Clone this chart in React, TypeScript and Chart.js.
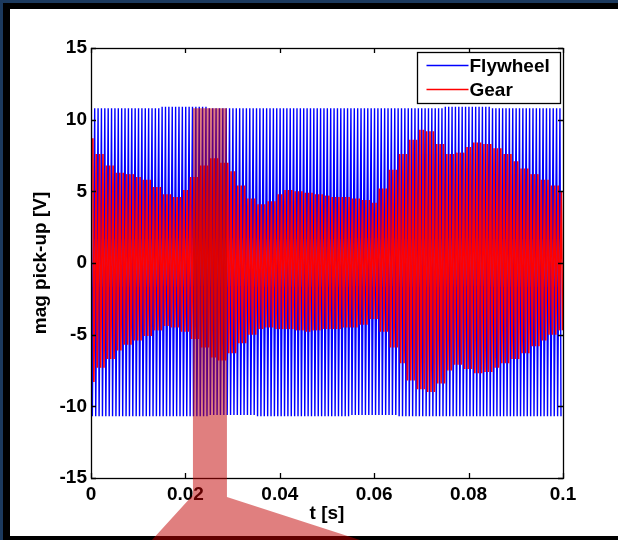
import React, { useEffect, useRef } from 'react';
import { Chart, registerables } from 'chart.js';

Chart.register(...registerables);

// ---- axis / ticks ----
const T_MIN = 0;
const T_MAX = 0.1;
const V_MIN = -15;
const V_MAX = 15;
const xTickValues = [0, 0.02, 0.04, 0.06, 0.08, 0.1];
const xTickLabels = ['0', '0.02', '0.04', '0.06', '0.08', '0.1'];
const yTickValues = [-15, -10, -5, 0, 5, 10, 15];
const yTickLabels = ['-15', '-10', '-5', '0', '5', '10', '15'];
const xTitle = 't [s]';
const yTitle = 'mag pick-up [V]';

// ---- series ----
const seriesNames = ['Flywheel', 'Gear'];
const seriesColors = ['#0000ff', '#ff0000'];

// Flywheel: number of oscillation cycles in the window, peak envelope read every 0.01 s
const flywheelCycles = 140;
const flywheelEnvStep = 0.01;
const flywheelUpper = [10.8, 10.8, 10.9, 10.8, 10.8, 10.8, 10.8, 10.8, 10.9, 10.8, 10.8];
const flywheelLower = [-10.7, -10.7, -10.7, -10.6, -10.7, -10.7, -10.6, -10.7, -10.7, -10.7, -10.7];

// Gear: number of oscillation cycles, peak envelope read every 0.002 s
const gearCycles = 140;
const gearEnvStep = 0.002;
const gearUpper = [
  8.7, 7.6, 6.8, 6.3, 6.2, 6.0, 5.8, 5.3, 4.8, 4.6,
  5.1, 6.0, 6.8, 7.3, 7.0, 6.4, 5.4, 4.5, 4.1, 4.3,
  4.8, 5.1, 5.0, 4.9, 4.8, 4.7, 4.6, 4.6, 4.5, 4.4,
  4.2, 5.2, 6.5, 7.6, 8.6, 9.3, 9.2, 8.3, 7.6, 7.7,
  8.1, 8.4, 8.3, 8.0, 7.6, 7.1, 6.6, 6.2, 5.8, 5.4, 5.0,
];
const gearLower = [
  -8.3, -7.3, -6.7, -6.1, -5.7, -5.4, -5.1, -4.7, -4.4, -4.5,
  -4.8, -5.3, -5.9, -6.6, -6.8, -6.3, -5.6, -5.0, -4.6, -4.5,
  -4.6, -4.6, -4.7, -4.8, -4.7, -4.6, -4.6, -4.5, -4.5, -4.3,
  -3.9, -4.8, -5.9, -7.0, -8.2, -8.8, -9.0, -8.4, -7.5, -7.1,
  -7.4, -7.7, -7.6, -7.3, -7.0, -6.7, -6.3, -5.8, -5.4, -5.0, -4.7,
];

// zoom-window highlight (time range and top value)
const zoomWindow = [0.0216, 0.0288];
const zoomTopValue = 10.8;

const FONT = 'Liberation Sans, Arial, Helvetica, sans-serif';

function buildWave(cycles: number, step: number, upper: number[], lower: number[], phase: number, split: number) {
  const pts: { x: number; y: number }[] = [];
  const period = (T_MAX - T_MIN) / cycles;
  for (let k = 0; k < cycles; k++) {
    const tp = T_MIN + (k + phase) * period;
    const tt = tp + split * period;
    const iu = Math.min(upper.length - 1, Math.round((tp - T_MIN) / step));
    const il = Math.min(lower.length - 1, Math.round((tt - T_MIN) / step));
    pts.push({ x: tp, y: upper[iu] });
    if (tt <= T_MAX) pts.push({ x: tt, y: lower[il] });
  }
  return pts;
}

const framePlugin = {
  id: 'frame',
  beforeDraw(chart: any) {
    const { ctx, width, height } = chart;
    ctx.save();
    ctx.fillStyle = '#1c3a5e';
    ctx.fillRect(0, 0, width, height);
    ctx.fillStyle = '#000000';
    ctx.fillRect(3, 3, width - 3, height - 3);
    ctx.fillStyle = '#ffffff';
    ctx.fillRect(10, 9, width - 10, height - 9 - 4);
    ctx.restore();
  },
  afterDraw(chart: any) {
    const { ctx, chartArea } = chart;
    const { left, right, top, bottom } = chartArea;
    const xs = chart.scales.x;
    const ys = chart.scales.y;
    ctx.save();
    // box
    ctx.strokeStyle = '#000000';
    ctx.lineWidth = 1.3;
    ctx.strokeRect(Math.round(left) + 0.5, Math.round(top) + 0.5, Math.round(right - left), Math.round(bottom - top));
    // inward ticks
    const tl = 5;
    ctx.beginPath();
    xTickValues.forEach((v) => {
      const px = Math.round(xs.getPixelForValue(v)) + 0.5;
      ctx.moveTo(px, bottom);
      ctx.lineTo(px, bottom - tl);
      ctx.moveTo(px, top);
      ctx.lineTo(px, top + tl);
    });
    yTickValues.forEach((v) => {
      const py = Math.round(ys.getPixelForValue(v)) + 0.5;
      ctx.moveTo(left, py);
      ctx.lineTo(left + tl, py);
      ctx.moveTo(right, py);
      ctx.lineTo(right - tl, py);
    });
    ctx.stroke();

    // legend
    const bw = 143;
    const bh = 51;
    const bx = Math.round(right) - 146 + 0.5;
    const by = Math.round(top) + 4 + 0.5;
    ctx.fillStyle = '#ffffff';
    ctx.fillRect(bx, by, bw, bh);
    ctx.lineWidth = 1.3;
    ctx.strokeStyle = '#000000';
    ctx.strokeRect(bx, by, bw, bh);
    ctx.font = `bold 19px ${FONT}`;
    ctx.textBaseline = 'middle';
    ctx.textAlign = 'left';
    chart.data.datasets.forEach((ds: any, i: number) => {
      const ly = by + 13 + i * 24;
      ctx.strokeStyle = ds.borderColor;
      ctx.lineWidth = 1.5;
      ctx.beginPath();
      ctx.moveTo(bx + 9, ly);
      ctx.lineTo(bx + 51, ly);
      ctx.stroke();
      ctx.fillStyle = '#000000';
      ctx.fillText(ds.label, bx + 52, ly + 1);
    });

    // zoom highlight
    const zl = xs.getPixelForValue(zoomWindow[0]);
    const zr = xs.getPixelForValue(zoomWindow[1]);
    const zt = ys.getPixelForValue(zoomTopValue);
    const h = chart.height;
    ctx.fillStyle = 'rgba(193, 0, 0, 0.5)';
    ctx.beginPath();
    ctx.moveTo(zl, zt);
    ctx.lineTo(zr, zt);
    ctx.lineTo(zr, bottom + 19);
    ctx.lineTo(zr + 133, h);
    ctx.lineTo(zl - 41, h);
    ctx.lineTo(zl, bottom + 17);
    ctx.closePath();
    ctx.fill();
    ctx.restore();
  },
};

export default function App() {
  const canvasRef = useRef<HTMLCanvasElement | null>(null);

  useEffect(() => {
    document.body.style.margin = '0';
    const canvas = canvasRef.current;
    if (!canvas) return;

    const flywheel = buildWave(flywheelCycles, flywheelEnvStep, flywheelUpper, flywheelLower, 0.1, 0.3);
    const gear = buildWave(gearCycles, gearEnvStep, gearUpper, gearLower, 0.55, 0.3);

    const tickFont = { family: FONT, size: 19, weight: 'bold' as const };

    const chart = new Chart(canvas, {
      type: 'line',
      data: {
        datasets: [
          {
            label: seriesNames[0],
            data: flywheel,
            borderColor: seriesColors[0],
            backgroundColor: seriesColors[0],
            borderWidth: 1.4,
            pointRadius: 0,
            fill: false,
            order: 2,
            borderJoinStyle: 'bevel',
          },
          {
            label: seriesNames[1],
            data: gear,
            borderColor: seriesColors[1],
            backgroundColor: seriesColors[1],
            borderWidth: 1.6,
            pointRadius: 0,
            fill: false,
            order: 1,
            borderJoinStyle: 'bevel',
          },
        ],
      },
      options: {
        responsive: false,
        animation: false,
        devicePixelRatio: 1,
        layout: { padding: { left: 0, right: 55, top: 48, bottom: 0 } },
        plugins: {
          legend: { display: false },
          tooltip: { enabled: false },
        },
        elements: { line: { tension: 0 }, point: { radius: 0 } },
        scales: {
          x: {
            type: 'linear',
            min: T_MIN,
            max: T_MAX,
            grid: { display: false, drawTicks: false },
            border: { display: false },
            afterBuildTicks: (s: any) => {
              s.ticks = xTickValues.map((v) => ({ value: v }));
            },
            afterFit: (s: any) => {
              s.height = 62;
            },
            ticks: {
              autoSkip: false,
              maxRotation: 0,
              padding: 5,
              color: '#000000',
              font: tickFont,
              callback: (value: any) => {
                const i = xTickValues.findIndex((v) => Math.abs(v - Number(value)) < 1e-9);
                return i >= 0 ? xTickLabels[i] : '';
              },
            },
            title: {
              display: true,
              text: xTitle,
              color: '#000000',
              font: tickFont,
              padding: { top: 0, bottom: 15 },
            },
          },
          y: {
            type: 'linear',
            min: V_MIN,
            max: V_MAX,
            grid: { display: false, drawTicks: false },
            border: { display: false },
            afterBuildTicks: (s: any) => {
              s.ticks = yTickValues.map((v) => ({ value: v }));
            },
            afterFit: (s: any) => {
              s.width = 91;
            },
            ticks: {
              autoSkip: false,
              padding: 4,
              color: '#000000',
              font: tickFont,
              callback: (value: any) => {
                const i = yTickValues.findIndex((v) => Math.abs(v - Number(value)) < 1e-9);
                return i >= 0 ? yTickLabels[i] : '';
              },
            },
            title: {
              display: true,
              text: yTitle,
              color: '#000000',
              font: tickFont,
              padding: { top: 29, bottom: 0 },
            },
          },
        },
      },
      plugins: [framePlugin],
    });

    return () => {
      chart.destroy();
    };
  }, []);

  return (
    <div style={{ width: 618, height: 540 }}>
      <canvas ref={canvasRef} width={618} height={540} style={{ display: 'block', width: 618, height: 540 }} />
    </div>
  );
}
